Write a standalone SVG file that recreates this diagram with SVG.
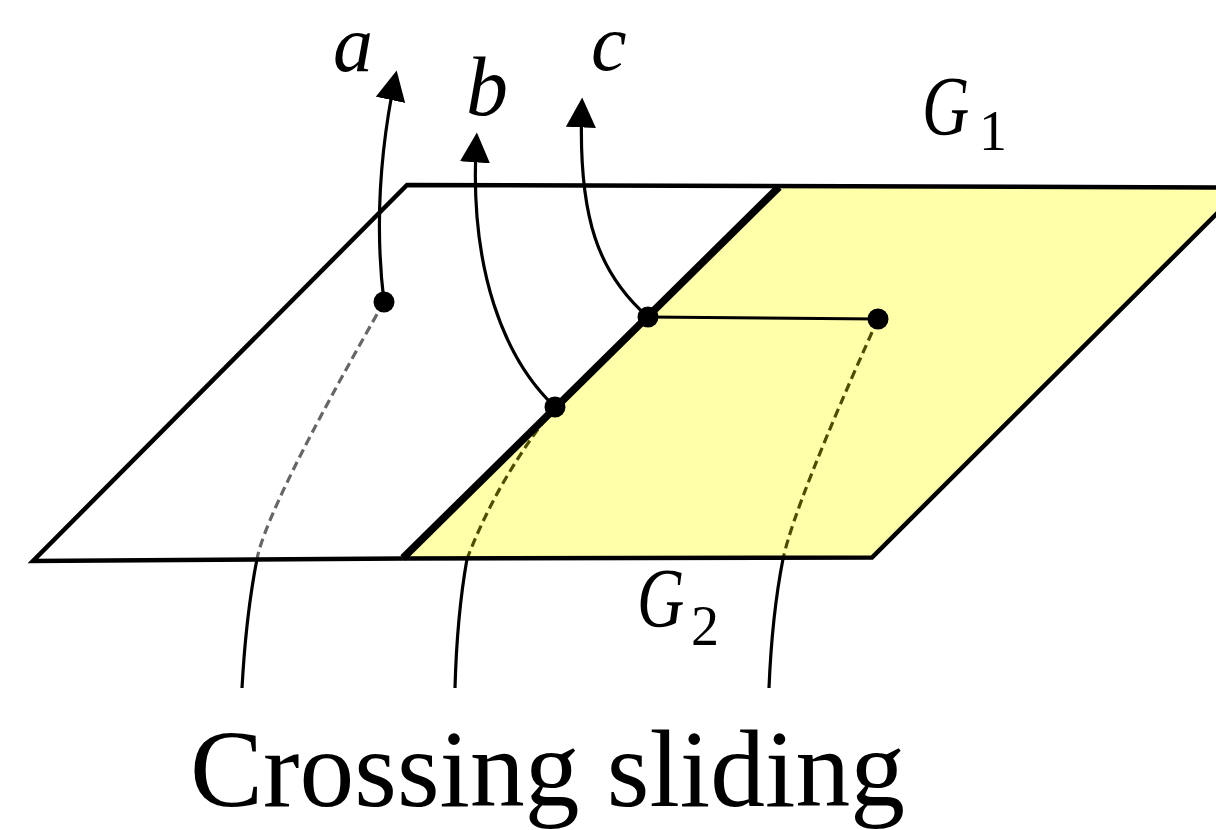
<svg xmlns="http://www.w3.org/2000/svg" width="1216" height="830" viewBox="0 0 1216 830">
<style>
.plane{stroke:#000;stroke-width:4.5;stroke-linejoin:miter;stroke-miterlimit:10}
.edge{fill:none;stroke:#000;stroke-width:7.5;stroke-linecap:butt}
.curve{fill:none;stroke:#000;stroke-width:3.2}
.dash-g{fill:none;stroke:#666;stroke-width:3.2;stroke-dasharray:9 5}
.dash-y{fill:none;stroke:#4D4D00;stroke-width:3.2;stroke-dasharray:9 5}
.dot{fill:#000}
.math{font-family:"Liberation Serif","DejaVu Serif",serif;font-style:italic;fill:#000}
.sub{font-family:"Liberation Serif","DejaVu Serif",serif;fill:#000}
.title{font-family:"Liberation Serif","DejaVu Serif",serif;fill:#000}
</style>
<defs>
<marker id="arrow" markerUnits="userSpaceOnUse" markerWidth="30" markerHeight="30" viewBox="0 0 26 26" refX="22" refY="13" orient="auto">
<path d="M0,0 L26,13 L0,26 z" fill="#000"/>
</marker>
</defs>
<rect width="1216" height="830" fill="#fff"/>
<g id="plane-right">
<polygon points="403,558 779,186.5 1243,187.5 872,557.5" fill="#FFFFAA"/>
</g>
<g id="connectors">
<path class="dash-g" d="M384,302 Q267,507 257,559"/>
<path class="dash-y" d="M555,407 Q498,478 467,559"/>
<path class="dash-y" d="M878,319 Q795,503 783,559"/>
<path class="curve" d="M257,559 Q246,615 242,688"/>
<path class="curve" d="M467,559 Q457,615 455,688"/>
<path class="curve" d="M783,559 Q772,615 769,688"/>
<path class="curve" d="M384,302 C374,220 382,140 395.7,75" marker-end="url(#arrow)"/>
<path class="curve" d="M555,407 C505,360 468,270 476.6,137" marker-end="url(#arrow)"/>
<path class="curve" d="M648,317 C600,275 577,220 582,102" marker-end="url(#arrow)"/>
<path class="curve" d="M648,317 L878,319" stroke-width="3.5"/>
</g>
<g id="plane-left">
<path class="plane" fill="none" d="M403,558.5 L33,561 L407,185 L1243,187.5 L872,557.5 L403,558.5"/>
<path class="edge" d="M403,558 L779,187"/>
</g>
<g id="node-a"><circle class="dot" cx="384" cy="302" r="10.5"/></g>
<g id="node-b"><circle class="dot" cx="555" cy="407" r="10.5"/></g>
<g id="node-c"><circle class="dot" cx="648" cy="317" r="10.5"/></g>
<g id="node-d"><circle class="dot" cx="878" cy="319" r="10.5"/></g>
<g id="labels">
<text class="math" x="333" y="71" font-size="80">a</text>
<text class="math" x="466" y="115" font-size="84">b</text>
<text class="math" x="591" y="70" font-size="80">c</text>
<text class="math" transform="translate(922,135) scale(0.78,1)" font-size="84">G</text>
<text class="sub" x="979" y="150" font-size="56">1</text>
<text class="math" transform="translate(637,627) scale(0.78,1)" font-size="84">G</text>
<text class="sub" x="691" y="645" font-size="56">2</text>
<text class="title" x="190" y="806" font-size="110" textLength="715" lengthAdjust="spacingAndGlyphs">Crossing sliding</text>
</g>
</svg>
